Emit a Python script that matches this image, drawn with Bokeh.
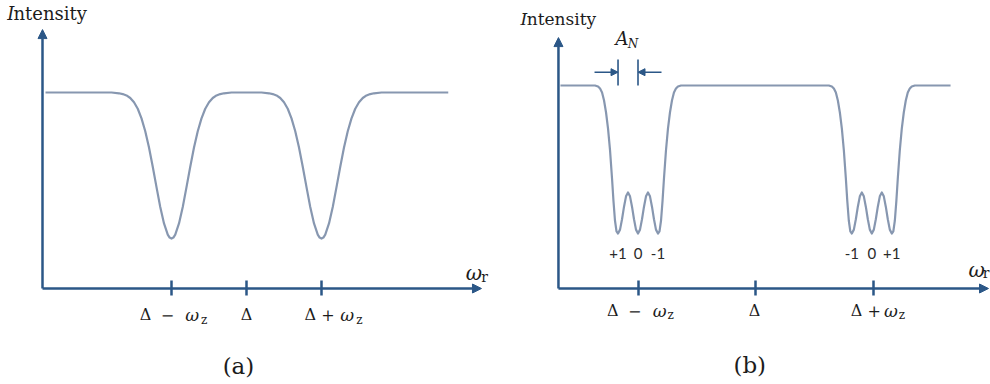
from bokeh.core.properties import field, value
from bokeh.embed import file_html
from bokeh.layouts import row
from bokeh.models import Arrow, ColumnDataSource, FixedTicker, LinearAxis, NormalHead, Range1d
from bokeh.plotting import figure
from bokeh.resources import INLINE

# Frequency in units of the Zeeman splitting ωz, centred on the detuning Δ;
# intensity normalised to the off-resonance level.
TICK_VALUES = [-1, 0, 1]
TICK_LABELS = ["Δ − ωz", "Δ", "Δ + ωz"]
BASELINE = 1.0

# (a) one absorption dip at each Zeeman-shifted line (half-profile, symmetric)
A_DIP_CENTRES = [-1.0, 1.0]
A_X_EXTENT = [-2.68, 2.69]
A_PROFILE_OFFSET = [0, 0.025, 0.05, 0.1, 0.15, 0.2, 0.25, 0.3, 0.35, 0.4, 0.45,
                    0.5, 0.55, 0.6, 0.65, 0.7, 0.8]
A_PROFILE_LEVEL = [0.255, 0.260, 0.275, 0.332, 0.416, 0.517, 0.621, 0.719, 0.802,
                   0.868, 0.917, 0.950, 0.972, 0.985, 0.992, 0.996, 1.0]

# (b) each dip resolved into three motional sidebands (half-profile, symmetric)
B_GROUP_CENTRES = [-1.0, 0.99]
B_X_EXTENT = [-1.66, 1.66]
B_PROFILE_OFFSET = [0, 0.017, 0.034, 0.051, 0.068, 0.085, 0.102, 0.119, 0.136, 0.153,
                    0.170, 0.183, 0.196, 0.209, 0.221, 0.238, 0.255, 0.272, 0.289,
                    0.306, 0.323, 0.340, 0.366]
B_PROFILE_LEVEL = [0.271, 0.290, 0.341, 0.403, 0.454, 0.473, 0.454, 0.403, 0.341, 0.290,
                   0.271, 0.281, 0.335, 0.433, 0.542, 0.680, 0.788, 0.867, 0.926,
                   0.966, 0.985, 0.995, 1.0]
B_SIDEBAND_OFFSETS = [-0.17, 0.0, 0.17]
B_SIDEBAND_LABELS = [["+1", "0", "-1"], ["-1", "0", "+1"]]

AXIS_COLOR = "#2b5787"
CURVE_COLOR = "#8797b0"
TEXT_COLOR = "#1c1c1c"
SERIF = "DejaVu Serif"


def spectrum(centres, extent, offsets, levels):
    xs, ys = [extent[0]], [BASELINE]
    for c in centres:
        for o, l in zip(reversed(offsets), reversed(levels)):
            xs.append(c - o)
            ys.append(l)
        for o, l in zip(offsets[1:], levels[1:]):
            xs.append(c + o)
            ys.append(l)
    xs.append(extent[1])
    ys.append(BASELINE)
    return xs, ys


def panel(x_range, y_range, width):
    return figure(width=width, height=384, x_range=Range1d(*x_range), y_range=Range1d(*y_range),
                  x_axis_type=None, y_axis_type=None, toolbar_location=None,
                  output_backend="svg", min_border=0, outline_line_color=None,
                  background_fill_color="white", border_fill_color="white")


def head(size=9):
    return NormalHead(size=size, fill_color=AXIS_COLOR, line_color=AXIS_COLOR, line_width=1)


def axes(p, x_origin, x_tip, y_tip):
    p.add_layout(Arrow(end=head(), x_start=x_origin, y_start=0, x_end=x_origin, y_end=y_tip,
                       line_color=AXIS_COLOR, line_width=2.5))
    p.add_layout(Arrow(end=head(), x_start=x_origin, y_start=0, x_end=x_tip, y_end=0,
                       line_color=AXIS_COLOR, line_width=2.5))
    ax = LinearAxis(fixed_location=0, ticker=FixedTicker(ticks=TICK_VALUES),
                    axis_line_color=None, major_tick_line_color=AXIS_COLOR,
                    major_tick_line_width=2.5, major_tick_in=8, major_tick_out=7,
                    minor_tick_line_color=None,
                    major_label_overrides={v: "" for v in TICK_VALUES})
    p.add_layout(ax, "below")


def tick_labels(p, baseline, sub_baseline, piece_dx):
    cols = dict(x=[], y=[], text=[], dx=[], style=[], size=[])
    for tv, label, dxs in zip(TICK_VALUES, TICK_LABELS, piece_dx):
        pieces = []
        for part in label.split():
            if part.startswith("ω") and len(part) > 1:
                pieces.append((part[0], "italic", "17px", baseline))
                pieces.append((part[1:], "normal", "12px", sub_baseline))
            else:
                pieces.append((part, "normal", "16px", baseline))
        for (t, st, sz, y), dx in zip(pieces, dxs):
            cols["x"].append(tv)
            cols["y"].append(y)
            cols["text"].append(t)
            cols["dx"].append(dx)
            cols["style"].append(st)
            cols["size"].append(sz)
    p.text(x="x", y="y", text="text", x_offset=field("dx"), source=ColumnDataSource(cols),
           text_font=value(SERIF), text_font_style=field("style"), text_font_size=field("size"),
           text_align="center", text_baseline="alphabetic", text_color=TEXT_COLOR)


def label(p, x, y, text, size, style="normal", align="left", font=SERIF):
    p.text(x=[x], y=[y], text=[text], text_font=value(font), text_font_size=value(size),
           text_font_style=style, text_align=align, text_baseline="alphabetic",
           text_color=TEXT_COLOR)


# ---------------- panel (a) ----------------
pa = panel((-3.28, 3.32), (-0.4898, 1.4694), 495)
axes(pa, -2.72, 3.133, 1.321)
xa, ya = spectrum(A_DIP_CENTRES, A_X_EXTENT, A_PROFILE_OFFSET, A_PROFILE_LEVEL)
pa.line(xa, ya, line_color=CURVE_COLOR, line_width=2.2, line_join="round")
tick_labels(pa, -0.1342, -0.1582,
            [[-26, -4, 20.7, 32.7], [0], [-11.3, 6.5, 25.7, 37.8]])
label(pa, -3.191, 1.4014, "I", "18px", "italic")
label(pa, -3.107, 1.4014, "ntensity", "18px")
label(pa, 3.031, 0.0816, "ω", "20px", "italic", "center")
label(pa, 3.173, 0.0612, "r", "14px", "normal", "center")
label(pa, -0.107, -0.393, "(a)", "23px", "normal", "center")

# ---------------- panel (b) ----------------
pb = panel((-2.2128, 2.0), (-0.4729, 1.4187), 495)
axes(pb, -1.677, 1.983, 1.236)
xb, yb = spectrum(B_GROUP_CENTRES, B_X_EXTENT, B_PROFILE_OFFSET, B_PROFILE_LEVEL)
pb.line(xb, yb, line_color=CURVE_COLOR, line_width=2.2, line_join="round")
tick_labels(pb, -0.1084, -0.1305,
            [[-25.3, -3.3, 21.7, 32.7], [-1], [-16.5, 1.3, 18, 29]])

sb = dict(x=[], text=[])
for c, labels in zip(B_GROUP_CENTRES, B_SIDEBAND_LABELS):
    for o, t in zip(B_SIDEBAND_OFFSETS, labels):
        sb["x"].append(c + o)
        sb["text"].append(t)
pb.text(x="x", y=0.1724, text="text", source=ColumnDataSource(sb), text_font=value("Lato"),
        text_font_size="15px", text_align="center", text_baseline="alphabetic",
        text_color="#2a2a2a")

# A_N: spacing between neighbouring sidebands of the first group
bar_x = [B_GROUP_CENTRES[0] + B_SIDEBAND_OFFSETS[0], B_GROUP_CENTRES[0] + B_SIDEBAND_OFFSETS[1]]
pb.segment(x0=bar_x, y0=[1.0, 1.0], x1=bar_x, y1=[1.128, 1.128],
           line_color=AXIS_COLOR, line_width=1.6)
pb.add_layout(Arrow(end=head(7), x_start=bar_x[0] - 0.2, y_start=1.0655, x_end=bar_x[0],
                    y_end=1.0655, line_color=AXIS_COLOR, line_width=1.4))
pb.add_layout(Arrow(end=head(7), x_start=bar_x[1] + 0.2, y_start=1.0655, x_end=bar_x[1],
                    y_end=1.0655, line_color=AXIS_COLOR, line_width=1.4))
mid = (bar_x[0] + bar_x[1]) / 2
pb.text(x=[mid], y=[1.2317], text=["A"], x_offset=-6, text_font=value(SERIF),
        text_font_size="18px", text_font_style="italic", text_align="center",
        text_baseline="alphabetic", text_color=TEXT_COLOR)
pb.text(x=[mid], y=[1.2067], text=["N"], x_offset=5, text_font=value(SERIF),
        text_font_size="12px", text_font_style="italic", text_align="center",
        text_baseline="alphabetic", text_color=TEXT_COLOR)

label(pb, -2.0, 1.3267, "I", "17px", "italic")
label(pb, -1.947, 1.3267, "ntensity", "17px")
label(pb, 1.883, 0.0887, "ω", "20px", "italic", "center")
label(pb, 1.962, 0.0754, "r", "14px", "normal", "center")
label(pb, -0.049, -0.3793, "(b)", "23px", "normal", "center")

layout = row(pa, pb)
open("out.html", "w").write(file_html(layout, INLINE))
